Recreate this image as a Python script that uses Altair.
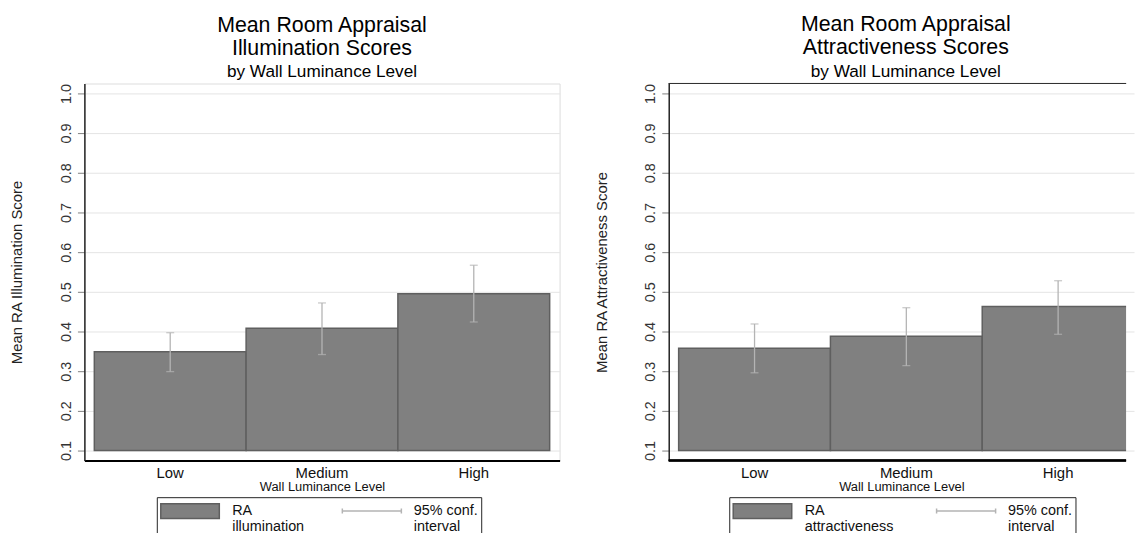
import altair as alt
import pandas as pd

levels = ["Low", "Medium", "High"]
illum_mean = [0.349, 0.408, 0.495]
illum_lo = [0.299, 0.342, 0.424]
illum_hi = [0.397, 0.472, 0.567]
attr_mean = [0.358, 0.388, 0.463]
attr_lo = [0.296, 0.314, 0.393]
attr_hi = [0.419, 0.460, 0.528]
y_ticks = [0.1, 0.2, 0.3, 0.4, 0.5, 0.6, 0.7, 0.8, 0.9, 1.0]
ci_label = "95% conf. interval"

FONT = "Liberation Sans"
BAR_FILL = "#808080"
BAR_EDGE = "#5f5f5f"
CI_COLOR = "#b4b4b4"
BAR_PATH = "M-1,-0.75H4.9V0.75H-1Z"
CI_PATH = "M-1,0H4.95M-1,-0.25V0.25M4.95,-0.25V0.25"
HEIGHT = 380


def panel(subject, ytitle, mean, lo, hi, bar_label, legend_x, col_pad,
          width, full_width, pad_outer, align, title_dx, cut):
    df = pd.DataFrame({"level": levels, "mean": mean, "lo": lo, "hi": hi})
    if cut:
        xscale = alt.Scale(paddingInner=0, paddingOuter=pad_outer, align=align,
                           range=[0, full_width])
    else:
        xscale = alt.Scale(paddingInner=0, paddingOuter=pad_outer, align=align)
    xenc = alt.X(
        "level:N", sort=levels, scale=xscale,
        axis=alt.Axis(title="Wall Luminance Level", labelAngle=0, ticks=False,
                      labelPadding=5, titlePadding=0, labelFontSize=15,
                      titleFontSize=13, labelColor="#111", titleColor="#111",
                      domain=not cut, domainColor="#000", domainWidth=2, grid=False,
                      labelFont=FONT, titleFont=FONT, titleFontWeight="normal"),
    )
    yscale = alt.Scale(domain=[0.075, 1.025], nice=False, zero=False)
    yaxis = alt.Axis(values=y_ticks, format=".1f", title=ytitle, labelAngle=270,
                     labelAlign="center", labelBaseline="bottom", labelPadding=4,
                     tickSize=7, tickColor="#808080", tickWidth=1,
                     gridColor="#e4e4e4", gridWidth=1, domainColor="#222",
                     domainWidth=1.5, labelFontSize=14.5, titleFontSize=15,
                     titlePadding=34, labelColor="#333", titleColor="#222",
                     labelFont=FONT, titleFont=FONT, titleFontWeight="normal")
    base = alt.Chart(df)
    bars = base.mark_bar(fill=BAR_FILL, stroke=BAR_EDGE, strokeWidth=1.5,
                         clip=True).encode(
        x=xenc, y=alt.Y("mean:Q", scale=yscale, axis=yaxis), y2=alt.datum(0.1))
    xs = alt.X("level:N", sort=levels)
    rule = base.mark_rule(color=CI_COLOR, strokeWidth=1.3).encode(
        x=xs, y="lo:Q", y2="hi:Q")
    cap_lo = base.mark_tick(color=CI_COLOR, size=8, thickness=1.3).encode(x=xs, y="lo:Q")
    cap_hi = base.mark_tick(color=CI_COLOR, size=8, thickness=1.3).encode(x=xs, y="hi:Q")

    series = [bar_label, ci_label]
    leg = alt.Legend(
        orient="none", legendX=legend_x, legendY=417, direction="horizontal",
        columns=2, title=None, padding=3, strokeColor="#222", fillColor="white",
        symbolSize=400, symbolStrokeWidth=1.5, symbolOpacity=1,
        labelFont=FONT, labelFontSize=14.5, labelColor="#111", labelOffset=51,
        labelLimit=300, columnPadding=col_pad,
        labelExpr="[slice(datum.label, 0, lastindexof(datum.label, ' ')), "
                  "slice(datum.label, lastindexof(datum.label, ' ') + 1)]",
    )
    key = base.transform_filter("false").mark_point().encode(
        fill=alt.Fill("series:N", scale=alt.Scale(domain=series, range=[BAR_FILL, "transparent"]), legend=leg),
        stroke=alt.Stroke("series:N", scale=alt.Scale(domain=series, range=[BAR_EDGE, CI_COLOR]), legend=leg),
        shape=alt.Shape("series:N", scale=alt.Scale(domain=series, range=[BAR_PATH, CI_PATH]), legend=leg),
    )
    title = alt.TitleParams(
        text=["Mean Room Appraisal", subject + " Scores"],
        subtitle="by Wall Luminance Level",
        font=FONT, subtitleFont=FONT, fontSize=21.5, subtitleFontSize=17.3,
        fontWeight="normal", color="#000", subtitleColor="#000",
        anchor="middle", frame="group", lineHeight=23.5, subtitlePadding=4,
        offset=3, dx=title_dx,
    )
    layers = [bars, rule, cap_lo, cap_hi, key]
    props = dict(width=width, height=HEIGHT, title=title)
    if cut:
        top = base.mark_rule(color="#333", strokeWidth=1).encode(
            x=alt.value(0), x2=alt.value(width), y=alt.value(0))
        bottom = base.mark_rule(color="#000", strokeWidth=2).encode(
            x=alt.value(0), x2=alt.value(width), y=alt.value(HEIGHT))
        layers += [top, bottom]
        props["view"] = alt.ViewBackground(stroke="transparent")
    return alt.layer(*layers).properties(**props)


left = panel("Illumination", "Mean RA Illumination Score", illum_mean, illum_lo, illum_hi,
             "RA illumination", 73, 35, 479, 479, 0.0654, 0.5, 0, False)
right = panel("Attractiveness", "Mean RA Attractiveness Score", attr_mean, attr_lo, attr_hi,
              "RA attractiveness", 61, 40, 461, 469, 0.0327, 1.0, 8.5, True)

chart = alt.hconcat(left, right, spacing=33).resolve_scale(
    fill="independent", stroke="independent", shape="independent"
).resolve_legend(
    fill="independent", stroke="independent", shape="independent"
).properties(
    padding={"left": 1, "top": 3, "right": 0, "bottom": -7}
).configure_view(stroke="#333", strokeWidth=1).configure(background="white")

chart.save("out.html", embed_options={"renderer": "svg", "actions": False})
